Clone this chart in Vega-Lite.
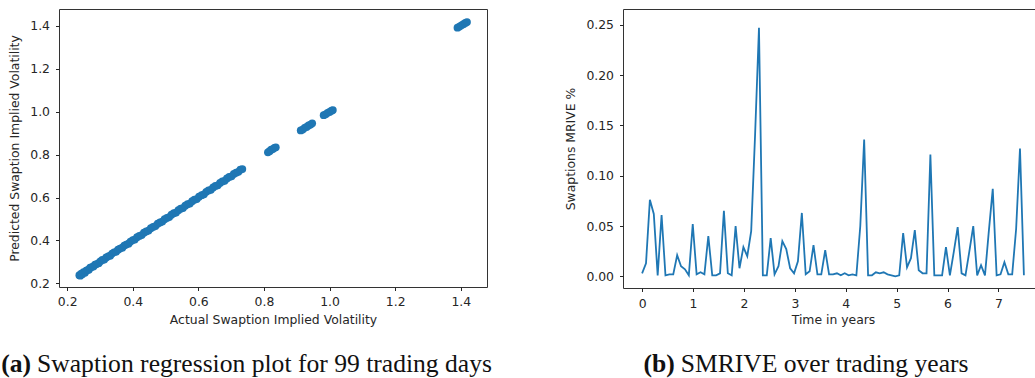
{
  "$schema": "https://vega.github.io/schema/vega-lite/v6.json",
  "background": "white",
  "padding": {"left": 0, "top": 8, "right": 0, "bottom": 0},
  "spacing": 71,
  "config": {
    "view": {"stroke": "#333333", "strokeWidth": 1},
    "axis": {
      "grid": false,
      "domain": false,
      "labelFont": "DejaVu Sans",
      "labelFontSize": 12.4,
      "labelColor": "#262626",
      "titleFont": "DejaVu Sans",
      "titleFontSize": 12.4,
      "titleFontWeight": "normal",
      "titleColor": "#262626",
      "tickColor": "#262626",
      "tickSize": 3.5,
      "labelPadding": 5
    },
    "text": {"font": "Liberation Serif", "fontSize": 25.6, "color": "#111111"}
  },
  "datasets": {
    "regression": [
      {"actual": 0.237, "predicted": 0.238}, {"actual": 0.240, "predicted": 0.236}, {"actual": 0.243, "predicted": 0.245},
      {"actual": 0.246, "predicted": 0.243}, {"actual": 0.250, "predicted": 0.252}, {"actual": 0.254, "predicted": 0.250},
      {"actual": 0.258, "predicted": 0.259}, {"actual": 0.262, "predicted": 0.262}, {"actual": 0.266, "predicted": 0.264},
      {"actual": 0.270, "predicted": 0.273}, {"actual": 0.275, "predicted": 0.276}, {"actual": 0.280, "predicted": 0.279},
      {"actual": 0.285, "predicted": 0.287}, {"actual": 0.290, "predicted": 0.290}, {"actual": 0.296, "predicted": 0.294},
      {"actual": 0.301, "predicted": 0.303}, {"actual": 0.307, "predicted": 0.309}, {"actual": 0.313, "predicted": 0.311},
      {"actual": 0.319, "predicted": 0.321}, {"actual": 0.325, "predicted": 0.326}, {"actual": 0.331, "predicted": 0.329},
      {"actual": 0.337, "predicted": 0.339}, {"actual": 0.343, "predicted": 0.345}, {"actual": 0.349, "predicted": 0.347},
      {"actual": 0.355, "predicted": 0.357}, {"actual": 0.361, "predicted": 0.362}, {"actual": 0.368, "predicted": 0.366},
      {"actual": 0.374, "predicted": 0.376}, {"actual": 0.380, "predicted": 0.381}, {"actual": 0.387, "predicted": 0.385},
      {"actual": 0.393, "predicted": 0.395}, {"actual": 0.400, "predicted": 0.402}, {"actual": 0.406, "predicted": 0.404},
      {"actual": 0.413, "predicted": 0.415}, {"actual": 0.420, "predicted": 0.421}, {"actual": 0.427, "predicted": 0.425},
      {"actual": 0.434, "predicted": 0.436}, {"actual": 0.441, "predicted": 0.442}, {"actual": 0.448, "predicted": 0.446},
      {"actual": 0.455, "predicted": 0.457}, {"actual": 0.462, "predicted": 0.463}, {"actual": 0.469, "predicted": 0.467},
      {"actual": 0.476, "predicted": 0.478}, {"actual": 0.483, "predicted": 0.484}, {"actual": 0.490, "predicted": 0.488},
      {"actual": 0.497, "predicted": 0.499}, {"actual": 0.504, "predicted": 0.505}, {"actual": 0.511, "predicted": 0.509},
      {"actual": 0.518, "predicted": 0.520}, {"actual": 0.525, "predicted": 0.527}, {"actual": 0.532, "predicted": 0.530},
      {"actual": 0.539, "predicted": 0.541}, {"actual": 0.546, "predicted": 0.548}, {"actual": 0.553, "predicted": 0.551},
      {"actual": 0.560, "predicted": 0.562}, {"actual": 0.567, "predicted": 0.569}, {"actual": 0.574, "predicted": 0.572},
      {"actual": 0.581, "predicted": 0.583}, {"actual": 0.588, "predicted": 0.590}, {"actual": 0.595, "predicted": 0.593},
      {"actual": 0.602, "predicted": 0.604}, {"actual": 0.610, "predicted": 0.611}, {"actual": 0.617, "predicted": 0.615},
      {"actual": 0.624, "predicted": 0.627}, {"actual": 0.631, "predicted": 0.633}, {"actual": 0.638, "predicted": 0.636},
      {"actual": 0.645, "predicted": 0.647}, {"actual": 0.652, "predicted": 0.654}, {"actual": 0.659, "predicted": 0.657},
      {"actual": 0.666, "predicted": 0.668}, {"actual": 0.673, "predicted": 0.675}, {"actual": 0.680, "predicted": 0.678},
      {"actual": 0.687, "predicted": 0.689}, {"actual": 0.694, "predicted": 0.696}, {"actual": 0.701, "predicted": 0.699},
      {"actual": 0.708, "predicted": 0.710}, {"actual": 0.715, "predicted": 0.716}, {"actual": 0.722, "predicted": 0.720},
      {"actual": 0.728, "predicted": 0.730}, {"actual": 0.734, "predicted": 0.733},
      {"actual": 0.812, "predicted": 0.811}, {"actual": 0.817, "predicted": 0.816}, {"actual": 0.822, "predicted": 0.823},
      {"actual": 0.827, "predicted": 0.826}, {"actual": 0.832, "predicted": 0.832}, {"actual": 0.836, "predicted": 0.834},
      {"actual": 0.912, "predicted": 0.913}, {"actual": 0.918, "predicted": 0.917}, {"actual": 0.924, "predicted": 0.925},
      {"actual": 0.930, "predicted": 0.929}, {"actual": 0.936, "predicted": 0.936}, {"actual": 0.942, "predicted": 0.940},
      {"actual": 0.947, "predicted": 0.946},
      {"actual": 0.982, "predicted": 0.984}, {"actual": 0.988, "predicted": 0.988}, {"actual": 0.994, "predicted": 0.995},
      {"actual": 1.000, "predicted": 0.999}, {"actual": 1.006, "predicted": 1.005}, {"actual": 1.010, "predicted": 1.008},
      {"actual": 1.390, "predicted": 1.392}, {"actual": 1.396, "predicted": 1.397}, {"actual": 1.402, "predicted": 1.403},
      {"actual": 1.408, "predicted": 1.408}, {"actual": 1.414, "predicted": 1.414}, {"actual": 1.419, "predicted": 1.418}
    ],
    "smrive": [
      {"years": 0.000, "mrive": 0.003}, {"years": 0.077, "mrive": 0.013}, {"years": 0.153, "mrive": 0.076},
      {"years": 0.230, "mrive": 0.062}, {"years": 0.306, "mrive": 0.001}, {"years": 0.383, "mrive": 0.061},
      {"years": 0.459, "mrive": 0.001}, {"years": 0.536, "mrive": 0.002}, {"years": 0.612, "mrive": 0.002},
      {"years": 0.689, "mrive": 0.021}, {"years": 0.765, "mrive": 0.010}, {"years": 0.842, "mrive": 0.007},
      {"years": 0.918, "mrive": 0.001}, {"years": 0.995, "mrive": 0.052}, {"years": 1.071, "mrive": 0.002},
      {"years": 1.148, "mrive": 0.004}, {"years": 1.224, "mrive": 0.002}, {"years": 1.301, "mrive": 0.040},
      {"years": 1.378, "mrive": 0.001}, {"years": 1.454, "mrive": 0.001}, {"years": 1.531, "mrive": 0.003},
      {"years": 1.607, "mrive": 0.065}, {"years": 1.684, "mrive": 0.003}, {"years": 1.760, "mrive": 0.001},
      {"years": 1.837, "mrive": 0.050}, {"years": 1.913, "mrive": 0.008}, {"years": 1.990, "mrive": 0.029},
      {"years": 2.066, "mrive": 0.020}, {"years": 2.143, "mrive": 0.045}, {"years": 2.219, "mrive": 0.140},
      {"years": 2.296, "mrive": 0.247}, {"years": 2.372, "mrive": 0.001}, {"years": 2.449, "mrive": 0.001},
      {"years": 2.526, "mrive": 0.038}, {"years": 2.602, "mrive": 0.002}, {"years": 2.679, "mrive": 0.010},
      {"years": 2.755, "mrive": 0.035}, {"years": 2.832, "mrive": 0.027}, {"years": 2.908, "mrive": 0.008},
      {"years": 2.985, "mrive": 0.003}, {"years": 3.061, "mrive": 0.015}, {"years": 3.138, "mrive": 0.063},
      {"years": 3.214, "mrive": 0.002}, {"years": 3.291, "mrive": 0.005}, {"years": 3.367, "mrive": 0.031},
      {"years": 3.444, "mrive": 0.002}, {"years": 3.520, "mrive": 0.002}, {"years": 3.597, "mrive": 0.026},
      {"years": 3.673, "mrive": 0.002}, {"years": 3.750, "mrive": 0.002}, {"years": 3.827, "mrive": 0.003},
      {"years": 3.903, "mrive": 0.001}, {"years": 3.980, "mrive": 0.003}, {"years": 4.056, "mrive": 0.001},
      {"years": 4.133, "mrive": 0.002}, {"years": 4.209, "mrive": 0.001}, {"years": 4.286, "mrive": 0.050},
      {"years": 4.362, "mrive": 0.136}, {"years": 4.439, "mrive": 0.001}, {"years": 4.515, "mrive": 0.001},
      {"years": 4.592, "mrive": 0.004}, {"years": 4.668, "mrive": 0.003}, {"years": 4.745, "mrive": 0.004},
      {"years": 4.821, "mrive": 0.002}, {"years": 4.898, "mrive": 0.001}, {"years": 4.974, "mrive": 0.000},
      {"years": 5.051, "mrive": 0.001}, {"years": 5.128, "mrive": 0.043}, {"years": 5.204, "mrive": 0.009},
      {"years": 5.281, "mrive": 0.018}, {"years": 5.357, "mrive": 0.046}, {"years": 5.434, "mrive": 0.006},
      {"years": 5.510, "mrive": 0.003}, {"years": 5.587, "mrive": 0.003}, {"years": 5.663, "mrive": 0.121},
      {"years": 5.740, "mrive": 0.001}, {"years": 5.816, "mrive": 0.001}, {"years": 5.893, "mrive": 0.001},
      {"years": 5.969, "mrive": 0.029}, {"years": 6.046, "mrive": 0.001}, {"years": 6.122, "mrive": 0.024},
      {"years": 6.199, "mrive": 0.049}, {"years": 6.276, "mrive": 0.003}, {"years": 6.352, "mrive": 0.001},
      {"years": 6.429, "mrive": 0.025}, {"years": 6.505, "mrive": 0.050}, {"years": 6.582, "mrive": 0.001},
      {"years": 6.658, "mrive": 0.011}, {"years": 6.735, "mrive": 0.001}, {"years": 6.811, "mrive": 0.045},
      {"years": 6.888, "mrive": 0.087}, {"years": 6.964, "mrive": 0.001}, {"years": 7.041, "mrive": 0.002},
      {"years": 7.117, "mrive": 0.014}, {"years": 7.194, "mrive": 0.002}, {"years": 7.270, "mrive": 0.002},
      {"years": 7.347, "mrive": 0.047}, {"years": 7.423, "mrive": 0.127}, {"years": 7.500, "mrive": 0.001}
    ],
    "captionA": [{"tag": "(a)", "caption": "Swaption regression plot for 99 trading days"}],
    "captionB": [{"tag": "(b)", "caption": "SMRIVE over trading years"}]
  },
  "hconcat": [
    {
      "width": 428,
      "height": 278,
      "layer": [
        {
          "data": {"name": "regression"},
          "mark": {"type": "circle", "size": 60, "opacity": 1, "color": "#1f77b4"},
          "encoding": {
            "x": {
              "field": "actual", "type": "quantitative",
              "scale": {"domain": [0.175, 1.48], "nice": false, "zero": false},
              "axis": {"values": [0.2, 0.4, 0.6, 0.8, 1.0, 1.2, 1.4], "format": ".1f", "title": "Actual Swaption Implied Volatility", "titlePadding": 6}
            },
            "y": {
              "field": "predicted", "type": "quantitative",
              "scale": {"domain": [0.183, 1.479], "nice": false, "zero": false},
              "axis": {"values": [0.2, 0.4, 0.6, 0.8, 1.0, 1.2, 1.4], "format": ".1f", "title": "Predicted Swaption Implied Volatility", "titlePadding": 8, "labelPadding": 6}
            }
          }
        },
        {
          "data": {"name": "captionA"},
          "mark": {"type": "text", "align": "right", "baseline": "alphabetic", "fontWeight": "bold", "dx": -6},
          "encoding": {"text": {"field": "tag"}, "x": {"datum": 0.108}, "y": {"datum": -0.213}}
        },
        {
          "data": {"name": "captionA"},
          "mark": {"type": "text", "align": "left", "baseline": "alphabetic"},
          "encoding": {"text": {"field": "caption"}, "x": {"datum": 0.108}, "y": {"datum": -0.213}}
        }
      ]
    },
    {
      "width": 420,
      "height": 279,
      "layer": [
        {
          "data": {"name": "smrive"},
          "mark": {"type": "line", "color": "#1f77b4", "strokeWidth": 1.8},
          "encoding": {
            "x": {
              "field": "years", "type": "quantitative",
              "scale": {"domain": [-0.375, 7.875], "nice": false, "zero": false},
              "axis": {"values": [0, 1, 2, 3, 4, 5, 6, 7], "title": "Time in years", "titlePadding": 4, "labelPadding": 6}
            },
            "y": {
              "field": "mrive", "type": "quantitative",
              "scale": {"domain": [-0.0116, 0.2657], "nice": false, "zero": false},
              "axis": {"values": [0, 0.05, 0.1, 0.15, 0.2, 0.25], "format": ".2f", "title": "Swaptions MRIVE %", "titlePadding": 8, "labelPadding": 6}
            }
          }
        },
        {
          "data": {"name": "captionB"},
          "mark": {"type": "text", "align": "right", "baseline": "alphabetic", "fontWeight": "bold", "dx": -6},
          "encoding": {"text": {"field": "tag"}, "x": {"datum": 0.758}, "y": {"datum": -0.0951}}
        },
        {
          "data": {"name": "captionB"},
          "mark": {"type": "text", "align": "left", "baseline": "alphabetic"},
          "encoding": {"text": {"field": "caption"}, "x": {"datum": 0.758}, "y": {"datum": -0.0951}}
        }
      ]
    }
  ]
}
